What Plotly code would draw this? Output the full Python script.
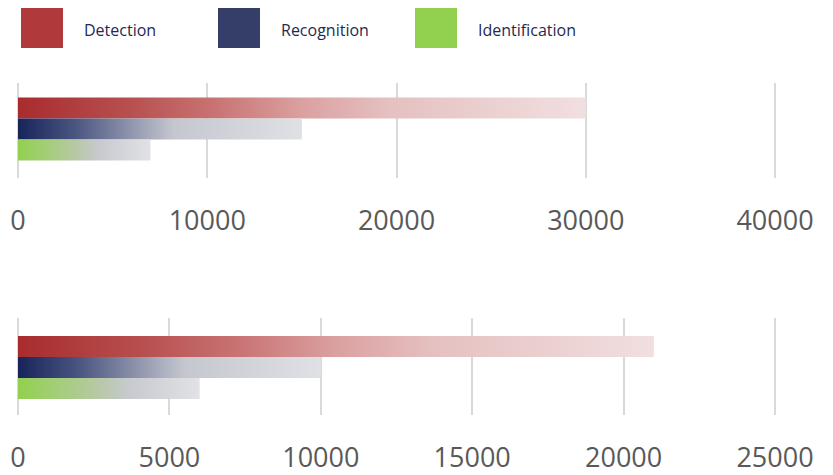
import plotly.graph_objects as go

# ---- data ----
series = ["Detection", "Recognition", "Identification"]
top_values = [30000, 15000, 7000]
bottom_values = [21000, 10000, 6000]
top_ticks = [0, 10000, 20000, 30000, 40000]
bottom_ticks = [0, 5000, 10000, 15000, 20000, 25000]

# ---- styles ----
legend_colors = ["#b0393b", "#343e68", "#92d050"]
gradients = [
    [[0, "#a82c2e"], [0.2, "#b85050"], [0.35, "#c97474"], [0.5, "#dba0a0"],
     [0.65, "#e5c0c0"], [1, "#f1dfe0"]],
    [[0, "#17245a"], [0.2, "#4a5580"], [0.4, "#9096ad"], [0.55, "#c5c7cf"],
     [1, "#e0e1e5"]],
    [[0, "#92d050"], [0.25, "#a6cd7e"], [0.45, "#b8c8a8"], [0.62, "#c8cad0"],
     [1, "#e1e2e5"]],
]
OFF = 8                      # browser body margin
W, H = 833 - OFF, 475 - OFF
FONT = "Open Sans"
AX0, AX1 = 18 - OFF, 775 - OFF   # pixel positions of axis start/end
PAD = 2                          # extra px so edge gridlines show
L, R = AX0 - PAD, W - (AX1 + PAD)
PW = (AX1 + PAD) - (AX0 - PAD)


def ext_range(vmax):
    per_px = vmax / (AX1 - AX0)
    return [-PAD * per_px, vmax + PAD * per_px]


def ydom(top_px, bot_px):
    return [1 - (bot_px - OFF) / H, 1 - (top_px - OFF) / H]


fig = go.Figure()


def add_bars(values, xa, ya):
    for i, (name, v) in enumerate(zip(series, values)):
        y0, y1 = -i - 0.5, -i + 0.5
        fig.add_trace(go.Scatter(
            x=[0, v, v, 0, 0], y=[y1, y1, y0, y0, y1],
            mode="lines", fill="toself", line=dict(width=0),
            fillgradient=dict(type="horizontal", colorscale=gradients[i],
                              start=0, stop=v),
            xaxis=xa, yaxis=ya, name=name, showlegend=False,
            hoverinfo="skip"))


add_bars(top_values, "x", "y")
add_bars(bottom_values, "x2", "y2")

axis_common = dict(showgrid=True, gridcolor="#d9d9d9", gridwidth=2,
                   zeroline=False, showline=False, ticks="",
                   tickfont=dict(family=FONT, size=27, color="#595959"),
                   ticklabelstandoff=24, fixedrange=True)
yaxis_common = dict(showgrid=False, zeroline=False, showticklabels=False,
                    showline=False, fixedrange=True)

fig.update_layout(
    width=W, height=H,
    margin=dict(l=L, r=R, t=0, b=0),
    paper_bgcolor="white", plot_bgcolor="white",
    showlegend=False,
    xaxis=dict(range=ext_range(top_ticks[-1]), tickvals=top_ticks,
               ticktext=[str(t) for t in top_ticks], anchor="y",
               **axis_common),
    yaxis=dict(range=[-3.33, 1.19], domain=ydom(83, 178),
               anchor="x", **yaxis_common),
    xaxis2=dict(range=ext_range(bottom_ticks[-1]), tickvals=bottom_ticks,
                ticktext=[str(t) for t in bottom_ticks], anchor="y2",
                **axis_common),
    yaxis2=dict(range=[-3.26, 1.36], domain=ydom(318, 415),
                anchor="x2", **yaxis_common),
)

# ---- custom legend ----
sw_x = [21, 218, 415]


def px_x(p):
    return (p - OFF - L) / PW


for i, name in enumerate(series):
    fig.add_shape(type="rect", xref="paper", yref="paper",
                  x0=px_x(sw_x[i]), x1=px_x(sw_x[i] + 42),
                  y0=1 - (48 - OFF) / H, y1=1 - (6 - OFF) / H,
                  fillcolor=legend_colors[i], line=dict(width=0))
    fig.add_annotation(xref="paper", yref="paper",
                       x=px_x(sw_x[i] + 61), y=1 - (30 - OFF) / H,
                       xanchor="left", yanchor="middle", showarrow=False,
                       text=name,
                       font=dict(family=FONT, size=16, color="#1f2a52"))

fig.write_html("out.html")
